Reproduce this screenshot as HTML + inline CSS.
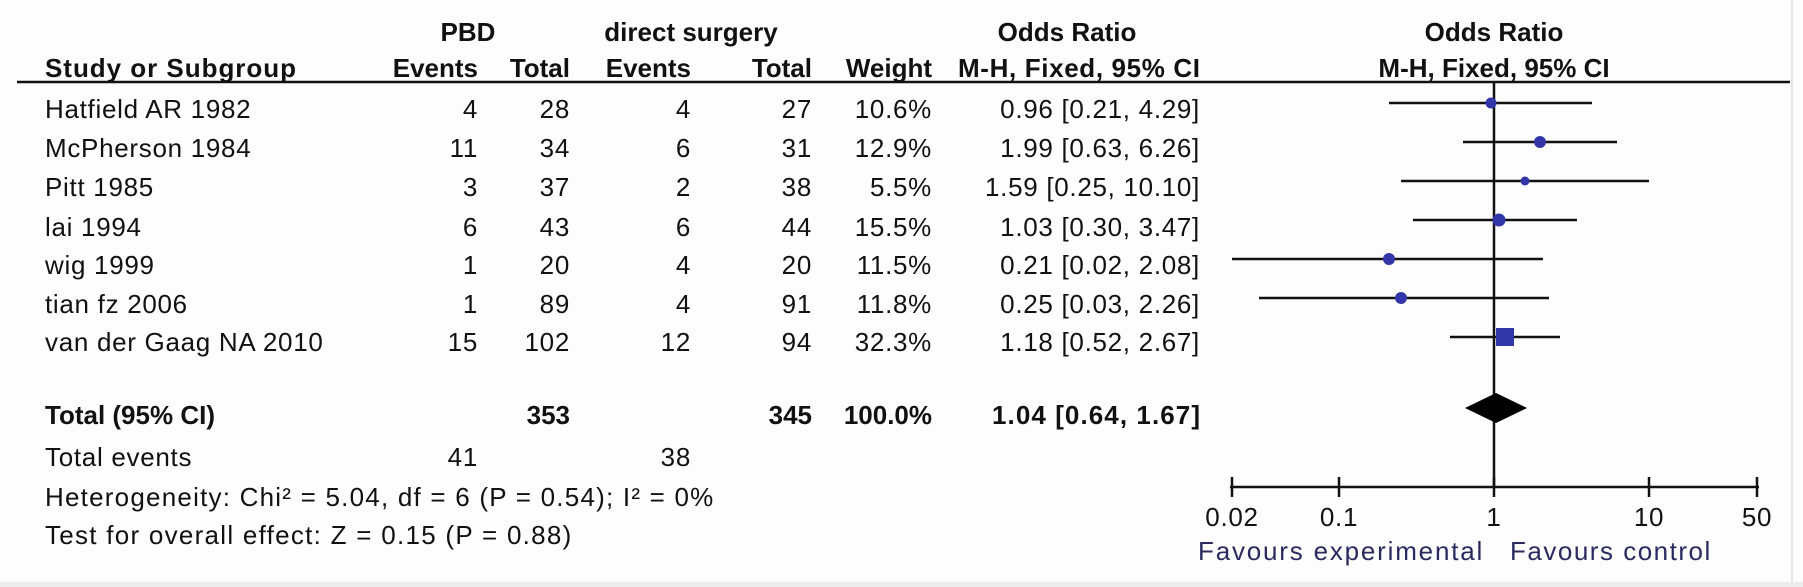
<!DOCTYPE html>
<html><head><meta charset="utf-8"><style>
html,body{margin:0;padding:0;background:#fdfdfd}
svg{display:block}
text{font-family:"Liberation Sans",Arial,sans-serif;font-size:26px;letter-spacing:0.7px;fill:#111}
.b{font-weight:bold;letter-spacing:0}
.f{fill:#2a2a60}
</style></head><body>
<svg width="1803" height="587" viewBox="0 0 1803 587" xmlns="http://www.w3.org/2000/svg">
<rect x="0" y="0" width="1803" height="587" fill="#fdfdfd"/>
<rect x="0" y="582" width="1803" height="5" fill="#ececec"/>
<line x1="1792" y1="0" x2="1792" y2="582" stroke="#e4e4e4" stroke-width="2"/>
<g class="b">
<text class="b" x="468" y="41" text-anchor="middle">PBD</text>
<text class="b" x="691" y="41" text-anchor="middle">direct surgery</text>
<text class="b" x="1067" y="41" text-anchor="middle">Odds Ratio</text>
<text class="b" x="1494" y="41" text-anchor="middle">Odds Ratio</text>
<text class="b" x="45" y="77" textLength="251">Study or Subgroup</text>
<text class="b" x="478" y="77" text-anchor="end">Events</text>
<text class="b" x="570" y="77" text-anchor="end">Total</text>
<text class="b" x="691" y="77" text-anchor="end">Events</text>
<text class="b" x="812" y="77" text-anchor="end">Total</text>
<text class="b" x="932" y="77" text-anchor="end">Weight</text>
<text class="b" x="1200" y="77" text-anchor="end" textLength="242">M-H, Fixed, 95% CI</text>
<text class="b" x="1494" y="77" text-anchor="middle">M-H, Fixed, 95% CI</text>
</g>
<line x1="17" y1="82" x2="1790" y2="82" stroke="#111" stroke-width="2.5"/>

<g>
<text x="45" y="118">Hatfield AR 1982</text><text x="478" y="118" text-anchor="end">4</text><text x="570" y="118" text-anchor="end">28</text><text x="691" y="118" text-anchor="end">4</text><text x="812" y="118" text-anchor="end">27</text><text x="932" y="118" text-anchor="end">10.6%</text><text x="1200" y="118" text-anchor="end">0.96 [0.21, 4.29]</text>
<text x="45" y="157">McPherson 1984</text><text x="478" y="157" text-anchor="end">11</text><text x="570" y="157" text-anchor="end">34</text><text x="691" y="157" text-anchor="end">6</text><text x="812" y="157" text-anchor="end">31</text><text x="932" y="157" text-anchor="end">12.9%</text><text x="1200" y="157" text-anchor="end">1.99 [0.63, 6.26]</text>
<text x="45" y="196">Pitt 1985</text><text x="478" y="196" text-anchor="end">3</text><text x="570" y="196" text-anchor="end">37</text><text x="691" y="196" text-anchor="end">2</text><text x="812" y="196" text-anchor="end">38</text><text x="932" y="196" text-anchor="end">5.5%</text><text x="1200" y="196" text-anchor="end">1.59 [0.25, 10.10]</text>
<text x="45" y="236">lai 1994</text><text x="478" y="236" text-anchor="end">6</text><text x="570" y="236" text-anchor="end">43</text><text x="691" y="236" text-anchor="end">6</text><text x="812" y="236" text-anchor="end">44</text><text x="932" y="236" text-anchor="end">15.5%</text><text x="1200" y="236" text-anchor="end">1.03 [0.30, 3.47]</text>
<text x="45" y="274">wig 1999</text><text x="478" y="274" text-anchor="end">1</text><text x="570" y="274" text-anchor="end">20</text><text x="691" y="274" text-anchor="end">4</text><text x="812" y="274" text-anchor="end">20</text><text x="932" y="274" text-anchor="end">11.5%</text><text x="1200" y="274" text-anchor="end">0.21 [0.02, 2.08]</text>
<text x="45" y="313">tian fz 2006</text><text x="478" y="313" text-anchor="end">1</text><text x="570" y="313" text-anchor="end">89</text><text x="691" y="313" text-anchor="end">4</text><text x="812" y="313" text-anchor="end">91</text><text x="932" y="313" text-anchor="end">11.8%</text><text x="1200" y="313" text-anchor="end">0.25 [0.03, 2.26]</text>
<text x="45" y="351">van der Gaag NA 2010</text><text x="478" y="351" text-anchor="end">15</text><text x="570" y="351" text-anchor="end">102</text><text x="691" y="351" text-anchor="end">12</text><text x="812" y="351" text-anchor="end">94</text><text x="932" y="351" text-anchor="end">32.3%</text><text x="1200" y="351" text-anchor="end">1.18 [0.52, 2.67]</text>

<text class="b" x="45" y="424">Total (95% CI)</text><text class="b" x="570" y="424" text-anchor="end">353</text><text class="b" x="812" y="424" text-anchor="end">345</text><text class="b" x="932" y="424" text-anchor="end">100.0%</text><text class="b" x="1200" y="424" text-anchor="end" textLength="208">1.04 [0.64, 1.67]</text>
<text x="45" y="466">Total events</text><text x="478" y="466" text-anchor="end">41</text><text x="691" y="466" text-anchor="end">38</text>
<text x="45" y="506" textLength="669">Heterogeneity: Chi² = 5.04, df = 6 (P = 0.54); I² = 0%</text>
<text x="45" y="544" textLength="527">Test for overall effect: Z = 0.15 (P = 0.88)</text>
</g>

<g stroke="#111" stroke-width="2.5">
<line x1="1494" y1="82" x2="1494" y2="487"/>
<line x1="1389" y1="103" x2="1592" y2="103"/>
<line x1="1463" y1="142" x2="1617" y2="142"/>
<line x1="1401" y1="181" x2="1649" y2="181"/>
<line x1="1413" y1="220" x2="1577" y2="220"/>
<line x1="1232" y1="259" x2="1543" y2="259"/>
<line x1="1259" y1="298" x2="1549" y2="298"/>
<line x1="1450" y1="337" x2="1560" y2="337"/>
<line x1="1230" y1="487" x2="1759" y2="487"/>
<line x1="1232" y1="477" x2="1232" y2="497"/>
<line x1="1339" y1="477" x2="1339" y2="497"/>
<line x1="1494" y1="477" x2="1494" y2="497"/>
<line x1="1649" y1="477" x2="1649" y2="497"/>
<line x1="1757" y1="477" x2="1757" y2="497"/>
</g>
<g fill="#3236a8">
<circle cx="1491" cy="103" r="5.5"/>
<circle cx="1540" cy="142" r="6"/>
<circle cx="1525" cy="181" r="4.5"/>
<circle cx="1499" cy="220" r="6.5"/>
<circle cx="1389" cy="259" r="6"/>
<circle cx="1401" cy="298" r="6"/>
<rect x="1496" y="328" width="18" height="18"/>
</g>
<polygon points="1465,408 1496,393 1527,408 1496,423" fill="#000"/>
<g>
<text x="1232" y="526" text-anchor="middle">0.02</text>
<text x="1339" y="526" text-anchor="middle">0.1</text>
<text x="1494" y="526" text-anchor="middle">1</text>
<text x="1649" y="526" text-anchor="middle">10</text>
<text x="1757" y="526" text-anchor="middle">50</text>
<text class="f" x="1198" y="560" textLength="285">Favours experimental</text>
<text class="f" x="1510" y="560" textLength="201">Favours control</text>
</g>
</svg>
</body></html>
